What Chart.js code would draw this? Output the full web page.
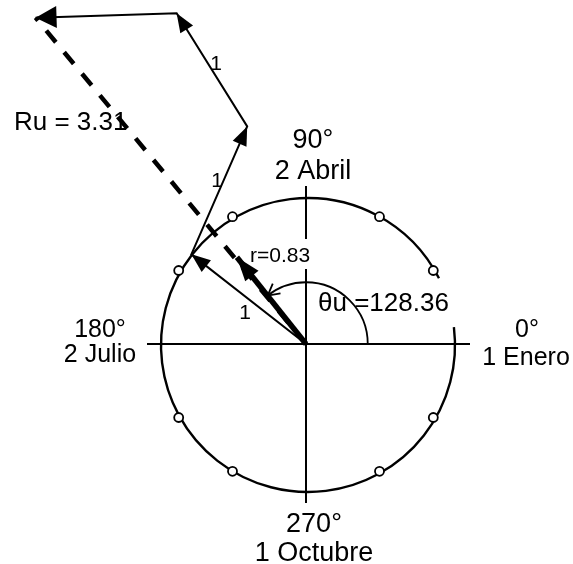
<!DOCTYPE html>
<html>
<head>
<meta charset="utf-8">
<script src="https://cdn.jsdelivr.net/npm/chart.js@4.4.0/dist/chart.umd.min.js"></script>
<style>
  html, body { margin: 0; padding: 0; background: #fff; }
  #wrap { width: 573px; height: 564px; }
</style>
</head>
<body>
<div id="wrap"><canvas id="myChart"></canvas></div>
<script>
// chain of unit vectors, circle radius = 1
var chainX = [0, -0.78, -0.40, -0.88, -1.84];
var chainY = [0, 0.61, 1.48, 2.25, 2.22];
var chainLabels = ["1", "1", "1", ""];

// mean vector r (tip)
var rX = [0, -0.47];
var rY = [0, 0.59];

// month marks on the circle, degrees
var monthAngles = [30, 60, 120, 150, 210, 240, 300, 330];

// axis labels (0, 90, 180, 270)
var axisDegrees = ["0°", "90°", "180°", "270°"];
var axisDates = ["1 Enero", "2 Abril", "2 Julio", "1 Octubre"];

var Ru = 3.31;
var rMean = 0.83;
var thetaU = 128.36;

var FONT = "'Liberation Sans', Arial, sans-serif";
var rad = function (d) { return d * Math.PI / 180; };

function arrowHead(ctx, x0, y0, x1, y1, len, hw) {
  var a = Math.atan2(y1 - y0, x1 - x0);
  var c = Math.cos(a), s = Math.sin(a);
  ctx.beginPath();
  ctx.moveTo(x1, y1);
  ctx.lineTo(x1 - len * c + hw * s, y1 - len * s - hw * c);
  ctx.lineTo(x1 - len * c - hw * s, y1 - len * s + hw * c);
  ctx.closePath();
  ctx.fill();
}

var drawing = {
  id: "drawing",
  beforeDatasetsDraw: function (chart) {
    var ctx = chart.ctx;
    var xs = chart.scales.x, ys = chart.scales.y;
    var cx = xs.getPixelForValue(0), cy = ys.getPixelForValue(0);
    var R = xs.getPixelForValue(1) - cx;
    ctx.save();
    ctx.strokeStyle = "#000";
    ctx.lineWidth = 2.4;
    // circle (small break at the right, behind the angle label)
    ctx.beginPath();
    ctx.arc(cx + 2, cy + 1, R, rad(-7), rad(-27), false);
    ctx.stroke();
    // axes
    ctx.lineWidth = 2;
    ctx.beginPath();
    ctx.moveTo(cx - 159, cy);
    ctx.lineTo(cx + 164, cy);
    ctx.moveTo(cx, cy - 158);
    ctx.lineTo(cx, cy + 159);
    ctx.stroke();
    // white box behind r label
    ctx.fillStyle = "#fff";
    ctx.fillRect(cx - 58, cy - 105, 64, 30);
    // theta arc
    var ra = 0.42 * R;
    ctx.lineWidth = 1.8;
    ctx.beginPath();
    ctx.arc(cx, cy, ra, 0, -rad(thetaU), true);
    ctx.stroke();
    var ex = cx + ra * Math.cos(rad(thetaU)), ey = cy - ra * Math.sin(rad(thetaU));
    var tx = -Math.sin(rad(thetaU)), ty = -Math.cos(rad(thetaU));
    var ang = Math.atan2(ty, tx);
    ctx.beginPath();
    ctx.moveTo(ex - 13 * Math.cos(ang - 0.5), ey - 13 * Math.sin(ang - 0.5));
    ctx.lineTo(ex, ey);
    ctx.lineTo(ex - 13 * Math.cos(ang + 0.5), ey - 13 * Math.sin(ang + 0.5));
    ctx.stroke();
    ctx.restore();
  },
  afterDatasetsDraw: function (chart) {
    var ctx = chart.ctx;
    var xs = chart.scales.x, ys = chart.scales.y;
    var cx = xs.getPixelForValue(0), cy = ys.getPixelForValue(0);
    ctx.save();
    ctx.fillStyle = "#000";
    // arrow heads along the chain
    var pts = chart.getDatasetMeta(0).data;
    for (var i = 1; i < pts.length; i++) {
      var big = i === pts.length - 1;
      arrowHead(ctx, pts[i - 1].x, pts[i - 1].y, pts[i].x, pts[i].y, big ? 21 : 19, big ? 11 : 7.5);
    }
    var rp = chart.getDatasetMeta(2).data;
    arrowHead(ctx, rp[0].x, rp[0].y, rp[1].x, rp[1].y, 24, 8.5);

    ctx.textBaseline = "alphabetic";
    // axis labels
    ctx.textAlign = "center";
    ctx.font = "25px " + FONT;
    ctx.fillText(axisDegrees[0], cx + 221, cy - 7);
    ctx.fillText(axisDates[0], cx + 220, cy + 21);
    ctx.fillText(axisDegrees[2], cx - 206, cy - 7);
    ctx.fillText(axisDates[2], cx - 206, cy + 18);
    ctx.font = "27px " + FONT;
    ctx.fillText(axisDegrees[1], cx + 7, cy - 196);
    ctx.fillText(axisDates[1], cx + 7, cy - 165);
    ctx.fillText(axisDegrees[3], cx + 8, cy + 188);
    ctx.fillText(axisDates[3], cx + 8, cy + 217);

    // unit labels on the chain
    ctx.font = "21px " + FONT;
    var lp = [[-61, -25], [-89, -157], [-90, -274]];
    for (var j = 0; j < lp.length; j++) {
      if (chainLabels[j]) ctx.fillText(chainLabels[j], cx + lp[j][0], cy + lp[j][1]);
    }

    ctx.textAlign = "left";
    ctx.font = "26px " + FONT;
    ctx.fillText("Ru = " + Ru.toFixed(2), cx - 292, cy - 214);
    ctx.fillText("θu =" + thetaU.toFixed(2), cx + 12, cy - 33);
    ctx.font = "21px " + FONT;
    ctx.fillText("r=" + rMean.toFixed(2), cx - 56, cy - 82);
    ctx.restore();
  }
};

var ctx = document.getElementById("myChart").getContext("2d");
var myChart = new Chart(ctx, {
  type: "scatter",
  data: {
    datasets: [
      {
        label: "vectores",
        data: chainX.map(function (x, i) { return { x: x, y: chainY[i] }; }),
        showLine: true,
        borderColor: "#000",
        borderWidth: 2,
        pointRadius: 0,
      },
      {
        label: "Ru",
        data: [{ x: 0, y: 0 }, { x: chainX[chainX.length - 1], y: chainY[chainY.length - 1] }],
        showLine: true,
        borderColor: "#000",
        borderWidth: 4.5,
        borderDash: [15, 13],
        pointRadius: 0,
      },
      {
        label: "r",
        data: rX.map(function (x, i) { return { x: x, y: rY[i] }; }),
        showLine: true,
        borderColor: "#000",
        borderWidth: 5.5,
        pointRadius: 0,
      },
      {
        label: "meses",
        data: monthAngles.map(function (a) {
          return { x: Math.cos(rad(a)), y: Math.sin(rad(a)) };
        }),
        showLine: false,
        pointRadius: 4.5,
        pointBackgroundColor: "#fff",
        pointBorderColor: "#000",
        pointBorderWidth: 1.8,
      },
    ],
  },
  options: {
    responsive: true,
    maintainAspectRatio: false,
    animation: false,
    events: [],
    layout: { padding: 0, autoPadding: false },
    scales: {
      x: { type: "linear", display: false, min: -306 / 147, max: 267 / 147 },
      y: { type: "linear", display: false, min: -220 / 147, max: 344 / 147 },
    },
    plugins: {
      legend: { display: false },
      tooltip: { enabled: false },
    },
  },
  plugins: [drawing],
});
</script>
</body>
</html>
